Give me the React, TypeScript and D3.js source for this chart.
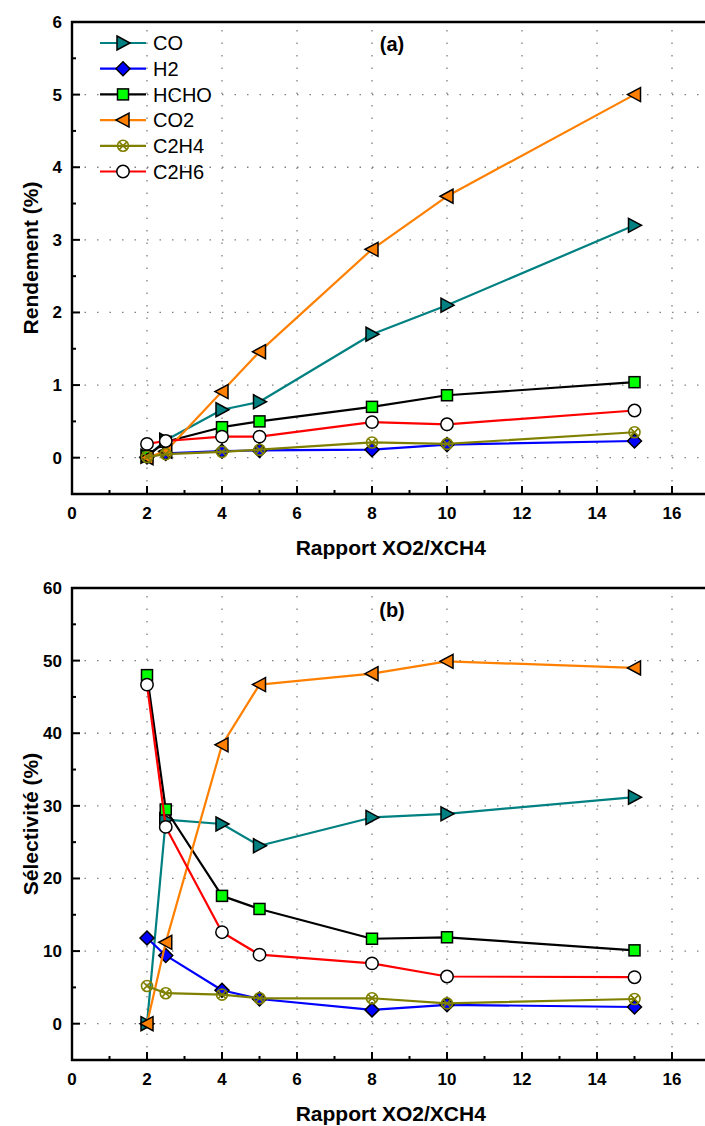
import React from 'react';
import * as d3 from 'd3';

// ---------- DATA ----------
const xValues = [2, 2.5, 4, 5, 8, 10, 15];

const seriesNames = ['CO', 'H2', 'HCHO', 'CO2', 'C2H4', 'C2H6'];

// Panel (a) : Rendement (%)
const rendementCO = [0.02, 0.24, 0.66, 0.77, 1.7, 2.1, 3.2];
const rendementH2 = [0.01, 0.06, 0.09, 0.1, 0.11, 0.18, 0.23];
const rendementHCHO = [0.02, 0.22, 0.42, 0.5, 0.7, 0.86, 1.04];
const rendementCO2 = [0.0, 0.09, 0.91, 1.46, 2.87, 3.6, 5.0];
const rendementC2H4 = [0.01, 0.05, 0.08, 0.11, 0.21, 0.19, 0.35];
const rendementC2H6 = [0.19, 0.23, 0.29, 0.29, 0.49, 0.46, 0.65];

// Panel (b) : Sélectivité (%)
const selectiviteCO = [0, 28.1, 27.5, 24.5, 28.4, 28.9, 31.2];
const selectiviteH2 = [11.8, 9.4, 4.6, 3.4, 1.9, 2.6, 2.3];
const selectiviteHCHO = [48.0, 29.5, 17.6, 15.8, 11.7, 11.9, 10.1];
const selectiviteCO2 = [0, 11.2, 38.4, 46.7, 48.2, 49.9, 49.0];
const selectiviteC2H4 = [5.2, 4.2, 4.0, 3.5, 3.5, 2.8, 3.4];
const selectiviteC2H6 = [46.7, 27.1, 12.6, 9.5, 8.3, 6.5, 6.4];

const xTicks = [0, 2, 4, 6, 8, 10, 12, 14, 16];
const yTicksA = [0, 1, 2, 3, 4, 5, 6];
const yTicksB = [0, 10, 20, 30, 40, 50, 60];

const rendement = [rendementCO, rendementH2, rendementHCHO, rendementCO2, rendementC2H4, rendementC2H6];
const selectivite = [selectiviteCO, selectiviteH2, selectiviteHCHO, selectiviteCO2, selectiviteC2H4, selectiviteC2H6];

// ---------- STYLE ----------
const lineColors: Record<string, string> = {
  CO: '#008080',
  H2: '#0000FF',
  HCHO: '#000000',
  CO2: '#FF8000',
  C2H4: '#808000',
  C2H6: '#FF0000',
};
const markerTypes: Record<string, string> = {
  CO: 'triRight',
  H2: 'diamond',
  HCHO: 'square',
  CO2: 'triLeft',
  C2H4: 'crossCircle',
  C2H6: 'circle',
};
const FONT = "Arial, 'Liberation Sans', Helvetica, sans-serif";

function Marker({ type, cx, cy }: { type: string; cx: number; cy: number }) {
  const sw = 1.5;
  switch (type) {
    case 'triRight':
      return (
        <polygon
          points={`${cx - 6},${cy - 7} ${cx + 7},${cy} ${cx - 6},${cy + 7}`}
          fill="#008080" stroke="#000" strokeWidth={sw} />
      );
    case 'triLeft':
      return (
        <polygon
          points={`${cx + 6},${cy - 7} ${cx - 7},${cy} ${cx + 6},${cy + 7}`}
          fill="#FF8000" stroke="#000" strokeWidth={sw} />
      );
    case 'diamond':
      return (
        <polygon
          points={`${cx},${cy - 7} ${cx + 7},${cy} ${cx},${cy + 7} ${cx - 7},${cy}`}
          fill="#0000FF" stroke="#000" strokeWidth={sw} />
      );
    case 'square':
      return <rect x={cx - 5.5} y={cy - 5.5} width={11} height={11} fill="#00FF00" stroke="#000" strokeWidth={sw} />;
    case 'circle':
      return <circle cx={cx} cy={cy} r={6.2} fill="#fff" stroke="#000" strokeWidth={sw} />;
    case 'crossCircle': {
      const r = 5.5;
      const d = r * 0.707;
      return (
        <g stroke="#808000" strokeWidth={1.6} fill="none">
          <circle cx={cx} cy={cy} r={r} />
          <line x1={cx - d} y1={cy - d} x2={cx + d} y2={cy + d} />
          <line x1={cx - d} y1={cy + d} x2={cx + d} y2={cy - d} />
        </g>
      );
    }
    default:
      return null;
  }
}

interface PanelProps {
  values: number[][];
  yDomain: [number, number];
  yTicks: number[];
  yMinorStep: number;
  top: number;
  bottom: number;
  yLabel: string;
  tag: string;
  showLegend: boolean;
}

const LEFT = 72;
const RIGHT = 709.5;

function Panel({ values, yDomain, yTicks, yMinorStep, top, bottom, yLabel, tag, showLegend }: PanelProps) {
  const x = d3.scaleLinear().domain([0, 17]).range([LEFT, RIGHT]);
  const y = d3.scaleLinear().domain(yDomain).range([bottom, top]);
  const line = d3
    .line<[number, number]>()
    .x((d) => x(d[0]))
    .y((d) => y(d[1]));

  const xMinor = d3.range(1, 17, 2);
  const yMinor = d3.range(yDomain[0], yDomain[1] + 1e-9, yMinorStep).filter(
    (v) => !yTicks.some((t) => Math.abs(t - v) < 1e-9)
  );

  return (
    <g>
      {/* grid */}
      <g stroke="#808080" strokeWidth={1.3} strokeDasharray="1.5,11">
        {xTicks.filter((t) => t > 0).map((t) => (
          <line key={'gx' + t} x1={x(t)} x2={x(t)} y1={bottom} y2={top} />
        ))}
        {yTicks.map((t) => (
          <line key={'gy' + t} x1={LEFT} x2={705} y1={y(t)} y2={y(t)} />
        ))}
      </g>

      {/* series */}
      {seriesNames.map((name, i) => {
        const pts = xValues.map((xv, j) => [xv, values[i][j]] as [number, number]);
        return (
          <g key={name}>
            <path d={line(pts) || ''} fill="none" stroke={lineColors[name]} strokeWidth={2.2} strokeLinejoin="round" />
            {pts.map((p, j) => (
              <Marker key={j} type={markerTypes[name]} cx={x(p[0])} cy={y(p[1])} />
            ))}
          </g>
        );
      })}

      {/* axes frame */}
      <g stroke="#000" strokeWidth={2.4} fill="none">
        <line x1={LEFT} x2={LEFT} y1={top - 1} y2={bottom + 1} />
        <line x1={LEFT - 1} x2={705} y1={bottom} y2={bottom} />
        <line x1={LEFT - 1} x2={705} y1={top} y2={top} />
      </g>
      {/* ticks */}
      <g stroke="#000" strokeWidth={2}>
        {xTicks.filter((t) => t > 0).map((t) => (
          <line key={'tx' + t} x1={x(t)} x2={x(t)} y1={bottom} y2={bottom - 8} />
        ))}
        {xMinor.map((t) => (
          <line key={'mx' + t} x1={x(t)} x2={x(t)} y1={bottom} y2={bottom - 4} />
        ))}
        {yTicks.map((t) => (
          <line key={'ty' + t} x1={LEFT} x2={LEFT + 8} y1={y(t)} y2={y(t)} />
        ))}
        {yMinor.map((t) => (
          <line key={'my' + t} x1={LEFT} x2={LEFT + 4} y1={y(t)} y2={y(t)} />
        ))}
      </g>

      {/* tick labels */}
      <g fontFamily={FONT} fontWeight="bold" fontSize={17} fill="#000">
        {xTicks.map((t) => (
          <text key={'lx' + t} x={x(t)} y={bottom + 25} textAnchor="middle">
            {t}
          </text>
        ))}
        {yTicks.map((t) => (
          <text key={'ly' + t} x={LEFT - 10} y={y(t) + 6} textAnchor="end">
            {t}
          </text>
        ))}
      </g>

      {/* axis titles */}
      <text
        x={(LEFT + RIGHT) / 2}
        y={bottom + 61}
        textAnchor="middle"
        fontFamily={FONT}
        fontWeight="bold"
        fontSize={21}
      >
        Rapport XO2/XCH4
      </text>
      <text
        transform={`translate(${38},${(top + bottom) / 2}) rotate(-90)`}
        textAnchor="middle"
        fontFamily={FONT}
        fontWeight="bold"
        fontSize={21}
      >
        {yLabel}
      </text>

      {/* panel tag */}
      <text x={392} y={top + 29} textAnchor="middle" fontFamily={FONT} fontWeight="bold" fontSize={20}>
        {tag}
      </text>

      {showLegend && (
        <g>
          {seriesNames.map((name, i) => {
            const ly = 43 + i * 25.7;
            return (
              <g key={'leg' + name}>
                <line x1={100} x2={146} y1={ly} y2={ly} stroke={lineColors[name]} strokeWidth={2.2} />
                <Marker type={markerTypes[name]} cx={123} cy={ly} />
                <text x={153} y={ly + 7.3} fontFamily={FONT} fontSize={20}>
                  {name}
                </text>
              </g>
            );
          })}
        </g>
      )}
    </g>
  );
}

export default function App() {
  return (
    <svg
      width={705}
      height={1126}
      style={{ position: 'absolute', left: 0, top: 0, background: '#fff' }}
    >
      <rect x={0} y={0} width={705} height={1126} fill="#fff" />
      <Panel
        values={rendement}
        yDomain={[-0.5, 6]}
        yTicks={yTicksA}
        yMinorStep={0.5}
        top={22}
        bottom={494}
        yLabel="Rendement (%)"
        tag="(a)"
        showLegend={true}
      />
      <Panel
        values={selectivite}
        yDomain={[-5, 60]}
        yTicks={yTicksB}
        yMinorStep={5}
        top={588}
        bottom={1060}
        yLabel="Sélectivité (%)"
        tag="(b)"
        showLegend={false}
      />
    </svg>
  );
}
